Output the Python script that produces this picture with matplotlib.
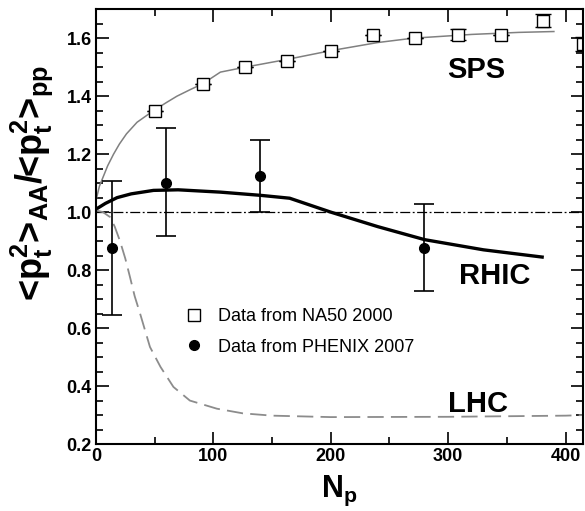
import matplotlib
matplotlib.use("Agg")
import matplotlib.pyplot as plt
from matplotlib.lines import Line2D
import numpy as np

plt.rcParams['font.family'] = ['Liberation Sans', 'DejaVu Sans']
plt.rcParams['mathtext.fontset'] = 'custom'
plt.rcParams['mathtext.rm'] = 'Liberation Sans'
plt.rcParams['mathtext.bf'] = 'Liberation Sans:bold'
plt.rcParams['mathtext.it'] = 'Liberation Sans:italic'

# NA50 2000 (SPS) data
na50_x = [50, 91, 127, 163, 200, 236, 272, 308, 345, 381, 415]
na50_y = [1.35, 1.443, 1.50, 1.522, 1.557, 1.612, 1.60, 1.612, 1.612, 1.66, 1.58]
na50_err = [0, 0, 0, 0, 0, 0, 0, 0.019, 0, 0.023, 0.025]

# PHENIX 2007 (RHIC) data
phx_x = [14, 60, 140, 279]
phx_y = [0.877, 1.10, 1.124, 0.876]
phx_lo = [0.233, 0.184, 0.124, 0.149]
phx_hi = [0.232, 0.19, 0.126, 0.151]

# model curves
sps_x = [0, 3, 6, 10, 15, 20, 26, 35, 49, 60, 69, 80, 91, 106, 127, 163, 200, 240, 270, 320, 360, 390]
sps_y = [1.04, 1.09, 1.12, 1.16, 1.20, 1.235, 1.27, 1.31, 1.35, 1.378, 1.40, 1.422, 1.443, 1.483, 1.50, 1.527, 1.557, 1.585, 1.60, 1.613, 1.62, 1.623]

rhic_x = [0, 8, 18, 30, 49, 70, 106, 140, 165, 200, 240, 280, 330, 380]
rhic_y = [1.01, 1.03, 1.05, 1.063, 1.075, 1.077, 1.069, 1.058, 1.048, 1.0, 0.95, 0.905, 0.87, 0.845]

lhc_x = [0, 6, 12, 16, 20.5, 25, 29, 33, 37.6, 46, 55, 66, 80, 103, 125, 150, 200, 300, 400, 415]
lhc_y = [1.006, 1.0, 0.983, 0.95, 0.90, 0.84, 0.776, 0.71, 0.65, 0.535, 0.466, 0.397, 0.35, 0.322, 0.306, 0.298, 0.293, 0.294, 0.298, 0.30]

fig = plt.figure(figsize=(5.85, 5.11), dpi=100)
ax = fig.add_axes([0.164, 0.131, 0.833, 0.851])

ax.axhline(1.0, color='black', lw=0.9, ls=(0, (8, 2, 1.5, 2)))
ax.plot(sps_x, sps_y, color='#808080', lw=1.1)
ax.plot(rhic_x, rhic_y, color='black', lw=2.4)
ax.plot(lhc_x, lhc_y, color='#8c8c8c', lw=1.3, ls=(0, (9, 4)))

ax.errorbar(na50_x, na50_y, yerr=na50_err, fmt='s', mfc='white', mec='black',
            ms=8, mew=1.0, color='black', ecolor='black', elinewidth=1.0, capsize=6)
ax.errorbar(phx_x, phx_y, yerr=[phx_lo, phx_hi], fmt='o', color='black', ms=7,
            elinewidth=1.2, capsize=7, capthick=1.2)

ax.text(324, 1.49, 'SPS', fontsize=21, fontweight='bold', ha='center', va='center')
ax.text(340, 0.78, 'RHIC', fontsize=21, fontweight='bold', ha='center', va='center')
ax.text(325, 0.337, 'LHC', fontsize=21, fontweight='bold', ha='center', va='center')

ax.set_xlim(0, 415)
ax.set_ylim(0.2, 1.7)
ax.set_xticks([0, 100, 200, 300, 400])
ax.set_xticks(np.arange(0, 416, 50), minor=True)
ax.set_yticks([0.2, 0.4, 0.6, 0.8, 1.0, 1.2, 1.4, 1.6])
ax.set_yticks(np.arange(0.2, 1.71, 0.05), minor=True)
ax.set_yticklabels(['0.2', '0.4', '0.6', '0.8', '1.0', '1.2', '1.4', '1.6'])
ax.tick_params(which='both', direction='in', top=True, right=True, width=1.2,
               labelsize=13, pad=3)
ax.tick_params(which='major', length=9)
ax.tick_params(which='minor', length=5)
for lab in ax.get_xticklabels() + ax.get_yticklabels():
    lab.set_fontweight('bold')
for s in ax.spines.values():
    s.set_linewidth(1.5)

ax.set_xlabel(r'$\mathbf{N_p}$', fontsize=22, labelpad=6)
ax.set_ylabel(r'<$\mathbf{p_t^2}$>$_\mathbf{AA}$/<$\mathbf{p_t^2}$>$_\mathbf{pp}$',
              fontsize=26, fontweight='bold')
ax.yaxis.set_label_coords(-0.084, 0.6)

handles = [Line2D([], [], ls='none', marker='s', mfc='white', mec='black', ms=8, mew=1.0),
           Line2D([], [], ls='none', marker='o', color='black', ms=7)]
ax.legend(handles, ['Data from NA50 2000', 'Data from PHENIX 2007'],
          loc='upper left', bbox_to_anchor=(0.14, 0.35), frameon=False,
          fontsize=13, handletextpad=0.6, labelspacing=0.75, handlelength=1.5)

fig.savefig('out.png', dpi=100)
